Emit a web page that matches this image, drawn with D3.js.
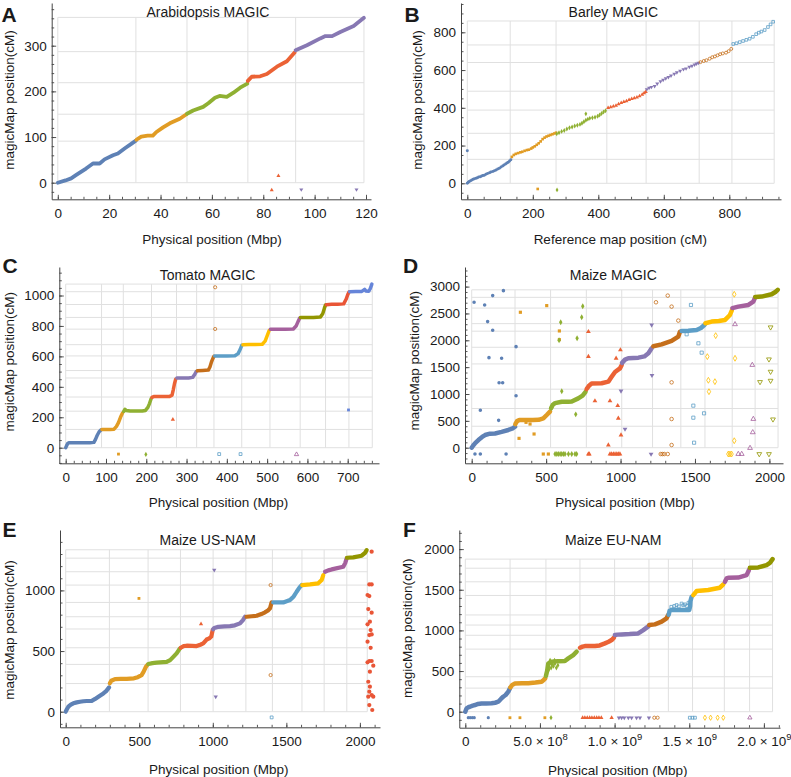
<!DOCTYPE html>
<html><head><meta charset="utf-8">
<script src="https://cdn.jsdelivr.net/npm/d3@7"></script>
<style>
body{margin:0;background:#fff}
svg{display:block}
text{font-family:"Liberation Sans",Arial,sans-serif;fill:#1a1a1a}
</style>
</head><body>
<svg id="chart" width="791" height="777"></svg>
<script>
// ---------------- colours (Mathematica default palette) ----------------
const PALETTE = ["#5E81B5","#E19C24","#8FB032","#EB6235","#8778B3","#C56E1A","#5D9EC7","#FFBF00","#A5609D","#929600","#E95536","#6685D9"];

// ---------------- A: Arabidopsis MAGIC ----------------
const arabXTicks = [0,20,40,60,80,100,120];
const arabYTicks = [0,100,200,300];
const arabCurves = [
  [[0,0],[3,5],[5.2,9.5],[7.2,17],[11,31],[13.7,42],[16.3,42],[18.2,51],[21.5,60],[23.4,64],[26,75],[28.6,85],[30.4,92]],
  [[30.6,94],[32.5,101],[35,103],[37,103],[38.4,111],[41,121],[43.6,130],[47.5,140],[50.1,150]],
  [[50.3,151],[52.7,158],[56.6,166],[58.6,174],[61.2,186],[63,190],[65.8,188],[68.4,197],[71,208],[73.8,217]],
  [[74,223],[75.5,232],[78.8,233],[81.4,238],[85.3,254],[89.2,266],[92.2,285]],
  [[92.6,290],[97,301],[102.2,316],[104.2,321],[106.8,321],[110,330],[115.2,343],[119.2,361]]
];
const arabOutliers = [[85.9,15,3],[83.3,-16,3],[94.8,-15,4],[116.3,-15,4]];
const arabGridX = [0,30.4,50.3,74,92.6,119.2];
const arabGridY = [0,91,150,219,287,362];

// ---------------- B: Barley MAGIC ----------------
const barleyXTicks = [0,200,400,600,800];
const barleyYTicks = [0,200,400,600,800];
const barleyChr = [
  [[0,0],[3,5],[6,9],[10,14],[14,17],[18,21],[22,24],[27,27],[31,30],[35,33],[40,35],[44,39],[48,41],[52,43],[57,48],[62,52],[68,56],[72,60],[78,62],[83,66],[88,70],[93,76],[98,80],[103,86],[108,92],[112,97],[117,102],[121,107],[125,112],[129,118],[133,125]],
  [[136,140],[142,150],[148,156],[155,160],[162,164],[168,167],[175,172],[182,176],[188,178],[195,184],[200,190],[206,196],[212,204],[218,212],[224,222],[230,234],[236,242],[242,248],[248,252],[254,256],[260,260],[266,264],[271,268]],
  [[273,262],[280,268],[288,275],[296,280],[304,288],[312,294],[320,298],[328,304],[336,308],[344,312],[350,318],[356,326],[362,334],[368,340],[374,344],[382,347],[390,350],[398,355],[404,362],[410,370],[416,378],[422,384]],
  [[430,400],[438,404],[446,408],[454,412],[462,420],[470,426],[478,432],[486,436],[494,442],[502,448],[510,452],[518,455],[526,462],[534,470],[540,478],[545,485]],
  [[548,498],[555,505],[562,510],[572,515],[580,528],[590,540],[598,548],[606,556],[614,562],[622,570],[632,580],[640,588],[650,596],[660,604],[668,608],[678,616],[686,622],[694,628],[700,634],[706,638]],
  [[712,642],[722,648],[730,652],[740,660],[748,668],[756,672],[764,678],[772,684],[780,688],[790,692],[798,700],[806,712]],
  [[812,738],[822,742],[832,748],[842,754],[852,760],[862,766],[872,776],[882,790],[890,798],[898,804],[908,812],[918,828],[926,842],[934,856]]
];
const barleyOutliers = [[0,173,0],[215,-30,1],[274,-35,2],[362,368,2]];
const barleyGridX = [0,131,271,426,546,708,808,937];
const barleyGridY = [0,127,265,388,488,640,733,860];

// ---------------- C: Tomato MAGIC ----------------
const tomatoXTicks = [0,100,200,300,400,500,600,700];
const tomatoYTicks = [0,200,400,600,800,1000];
const tomatoCurves = [
  [[0,0],[2,12],[5,28],[8,33],[20,33],[40,33],[60,33],[70,35],[74,55],[78,80],[83,105],[88,118]],
  [[90,120],[100,120],[110,120],[120,122],[126,140],[131,165],[136,200],[141,228]],
  [[144,238],[147,252],[150,245],[160,241],[175,241],[190,241],[198,245],[204,265],[208,290],[212,322]],
  [[214,330],[220,337],[240,337],[258,337],[264,345],[267,380],[270,420],[273,450]],
  [[276,458],[290,458],[305,458],[315,462],[320,480],[324,500]],
  [[327,505],[340,508],[354,510],[358,530],[362,565],[366,590],[368,600]],
  [[370,602],[385,602],[400,602],[420,604],[428,618],[433,645],[437,672]],
  [[440,676],[455,678],[470,678],[488,680],[495,700],[500,735],[505,770]],
  [[508,778],[525,778],[545,778],[565,780],[572,800],[577,830],[581,852]],
  [[583,855],[600,856],[615,856],[632,858],[638,880],[642,915],[645,938]],
  [[647,940],[660,942],[675,942],[690,945],[696,975],[700,1005],[703,1022]],
  [[705,1025],[720,1026],[735,1027],[742,1040],[745,1030],[752,1028],[756,1045],[760,1075]]
];
const tomatoOutliers = [[131,-42,1],[199,-44,2],[266,186,3],[371,1054,5],[371,780,5],[381,-42,6],[434,-42,6],[573,-44,8],[702,248,11]];
const tomatoGridX = [0,89,143,213,275,325,368,437,507,582,645,703,761];
const tomatoGridY = [0,120,240,333,458,507,603,677,779,856,941,1025,1075];

// ---------------- D: Maize MAGIC ----------------
const maizeXTicks = [0,500,1000,1500,2000];
const magicYTicks = [0,500,1000,1500,2000,2500,3000];
const magicCurves = [
  [[0,0],[10,40],[25,90],[45,143],[70,200],[90,236],[123,262],[157,265],[201,295],[246,330],[275,360],[291,390]],
  [[293,440],[305,495],[320,516],[358,518],[410,518],[450,520],[481,547],[504,609],[526,671]],
  [[533,733],[545,800],[560,830],[605,857],[650,857],[672,860],[716,919],[745,970],[765,1040]],
  [[772,1093],[790,1160],[806,1195],[873,1200],[918,1230],[940,1320],[963,1410],[996,1478],[1008,1540]],
  [[1010,1580],[1030,1640],[1052,1665],[1120,1677],[1160,1700],[1187,1758],[1209,1851]],
  [[1220,1890],[1276,1925],[1343,1988],[1388,2068],[1399,2160]],
  [[1411,2174],[1455,2176],[1511,2193],[1540,2230],[1565,2290]],
  [[1570,2317],[1612,2348],[1660,2360],[1702,2379],[1735,2472],[1748,2560]],
  [[1751,2600],[1791,2627],[1859,2658],[1892,2720],[1903,2790]],
  [[1905,2807],[1948,2814],[2015,2857],[2040,2900],[2056,2940]]
];
const magicOutliers = [
  [16,2708,0],[87,2658,0],[141,2832,0],[107,2348,0],[141,2186,0],[116,1677,0],[201,1665,0],[184,1211,0],[208,1211,0],[298,969,0],[298,1882,0],[213,2925,0],[58,696,0],[181,509,0],[22,-118,0],[58,-118,0],[231,-118,0],
  [327,2522,1],[504,2646,1],[318,174,1],[365,472,1],[392,441,1],[419,255,1],[481,-118,1],[515,-118,1],[589,2174,1],[589,2012,1],
  [598,2335,2],[587,2000,2],[739,2429,2],[708,2037,2],[746,2634,2],[605,1050,2],[699,621,2],
  [560,-118,2],[572,-118,2],[582,-118,2],[594,-118,2],[605,-118,2],[616,-118,2],[627,-118,2],[650,-118,2],[672,-118,2],[694,-118,2],[705,-118,2],
  [784,2161,3],[784,1696,3],[828,870,3],[929,870,3],[999,1820,3],[970,1665,3],[981,783,3],[985,547,3],[1003,236,3],[918,50,3],
  [784,-118,3],[790,-118,3],[929,-118,3],[940,-118,3],[952,-118,3],[963,-118,3],[975,-118,3],[985,-118,3],[996,-118,3],
  [1209,2286,4],[1211,1348,4],[1003,1056,4],[1030,348,4],[1205,-118,4],
  [1317,2832,5],[1238,2708,5],[1343,2627,5],[1388,2367,5],[1343,1217,5],[1343,534,5],[1343,50,5],[1317,-118,5],[1270,-118,5],[1282,-118,5],[1294,-118,5],
  [1473,2658,6],[1523,1944,6],[1444,2112,6],[1545,1770,6],[1489,783,6],[1489,559,6],[1561,640,6],[1494,93,6],
  [1583,1696,7],[1590,1255,7],[1634,1230,7],[1594,1043,7],[1639,2087,7],[1764,2857,7],[1769,1665,7],[1764,130,7],[1724,-118,7],[1735,-118,7],[1746,-118,7],
  [1769,2298,8],[1885,1540,8],[1892,534,8],[1888,286,8],[1870,-6,8],[1791,-118,8],[1814,-118,8],
  [2008,2242,9],[1997,1646,9],[2008,1416,9],[2008,1248,9],[1937,1224,9],[2024,528,9],[1932,-118,9],[1997,-118,9]
];
const magicGridX = [0,291,530,770,1008,1215,1405,1567,1750,1904,2058];
const magicGridY = [0,400,730,1090,1560,1870,2170,2310,2600,2800,2940];

// ---------------- E: Maize US-NAM ----------------
const usnamYTicks = [0,500,1000];
const usnamCurves = [
  [[0,0],[8,20],[18,41],[35,58],[52,69],[75,77],[97,82],[120,86],[143,88],[177,90],[200,105],[230,130],[256,151],[275,170],[295,200]],
  [[300,234],[310,255],[335,269],[375,270],[415,270],[464,275],[490,285],[516,302],[530,330],[545,370],[555,385]],
  [[562,393],[590,400],[618,404],[686,410],[710,425],[730,450],[754,481],[770,510],[777,522]],
  [[782,527],[800,540],[822,544],[860,542],[890,541],[915,552],[935,563],[958,595],[976,605],[990,620],[999,673]],
  [[1002,680],[1010,690],[1038,700],[1080,703],[1117,706],[1150,712],[1185,728],[1205,755],[1219,783]],
  [[1230,783],[1265,787],[1298,791],[1330,805],[1355,819],[1375,835],[1389,852],[1400,901]],
  [[1411,901],[1445,901],[1479,901],[1525,920],[1550,950],[1570,989],[1590,1025],[1604,1044]],
  [[1608,1044],[1661,1049],[1717,1058],[1740,1085],[1751,1126]],
  [[1763,1154],[1785,1165],[1808,1173],[1887,1195],[1900,1225],[1910,1264]],
  [[1912,1269],[1955,1272],[2012,1286],[2035,1310],[2046,1332]]
];
const usnamOutliers = [
  [498,934,1],[920,723,3],[1010,1168,4],[1020,124,4],[1393,1044,5],[1393,302,5],[1400,-47,6]
];
const usnamUnmapped = [
  [2080,1319,10],[2064,1049,10],[2080,1049,10],[2052,962,10],[2064,953,10],[2057,846,10],[2080,816,10],[2068,742,10],[2052,720,10],[2073,673,10],
  [2064,632,10],[2080,637,10],[2052,577,10],[2073,527,10],[2064,418,10],[2080,418,10],[2052,407,10],[2091,379,10],[2068,330,10],[2057,247,10],
  [2064,165,10],[2080,137,10],[2057,124,10],[2091,124,10],[2064,55,10],[2084,14,10],[2068,206,10]
];
const usnamGridX = [0,297,560,780,1002,1225,1405,1606,1757,1911,2050];
const usnamGridY = [0,232,390,527,682,783,901,1044,1154,1266,1335];

// ---------------- F: Maize EU-NAM ----------------
const eunamXTicks = [0,500,1000,1500,2000];
const eunamXTickLabels = [["0",""],["5.0 \u00d7 10","8"],["1.0 \u00d7 10","9"],["1.5 \u00d7 10","9"],["2.0 \u00d7 10","9"]];
const eunamYTicks = [0,500,1000,1500,2000];
const eunamCurves = [
  [[0,0],[5,25],[9,41],[20,55],[31,61],[50,75],[65,82],[85,95],[109,102],[140,102],[176,103],[200,110],[221,123],[240,160],[254,184],[270,205],[288,246],[299,287]],
  [[302,300],[315,330],[333,348],[380,350],[422,350],[470,358],[511,369],[525,390],[535,410]],
  [[540,440],[548,500],[556,594],[578,615],[620,622],[667,623],[690,656],[723,697],[746,738]],
  [[768,787],[785,800],[801,807],[868,807],[900,815],[935,840],[960,860],[980,881],[996,910]],
  [[1002,943],[1020,948],[1047,951],[1100,955],[1158,963],[1192,1004],[1228,1053]],
  [[1232,1066],[1270,1074],[1315,1107],[1348,1148],[1359,1189]],
  [[1362,1192],[1368,1240],[1380,1250],[1420,1250],[1460,1250],[1500,1250],[1506,1300],[1508,1360],[1516,1414]],
  [[1527,1434],[1549,1484],[1590,1490],[1627,1496],[1705,1525],[1728,1566]],
  [[1739,1598],[1750,1640],[1761,1648],[1828,1650],[1884,1680],[1900,1742]],
  [[1906,1770],[1962,1775],[2018,1803],[2040,1830],[2058,1877]]
];
const eunamOutliers = [
  [552,560,2],[560,520,2],[565,600,2],[575,540,2],[580,580,2],[590,560,2],[600,590,2],[610,540,2],[620,570,2],[568,630,2],[598,630,2],
  [1380,1290,6],[1400,1300,6],[1415,1311,6],[1430,1295,6],[1449,1330,6],[1460,1310,6],[1471,1320,6],[1485,1300,6],[1495,1340,6],
  [20,-74,0],[33,-74,0],[47,-74,0],[60,-74,0],[154,-74,0],[299,-74,1],[366,-74,1],[533,-74,1],[574,-74,2],
  [786,-74,3],[801,-74,3],[817,-74,3],[833,-74,3],[848,-74,3],[864,-74,3],[880,-74,3],[895,-74,3],[911,-74,3],[980,-74,3],
  [1029,-74,4],[1047,-74,4],[1065,-74,4],[1092,-74,4],[1114,-74,4],[1147,-74,4],[1170,-74,4],[1230,-74,4],
  [1266,-74,5],[1288,-74,5],[1504,-74,6],[1522,-74,6],[1538,-74,6],[1605,-74,7],[1643,-74,7],[1690,-74,7],[1728,-74,7],[1906,-74,8]
];
const eunamGridX = [0,300,540,768,1000,1230,1360,1522,1735,1904,2058];
const eunamGridY = [0,290,430,770,940,1066,1190,1430,1598,1765,1877];

// ---------------- panel layout ----------------
const panels = [
 {letter:"A",letterPos:[1.5,21.7],title:"Arabidopsis MAGIC",titlePos:[208,16.8],
  xLabel:"Physical position (Mbp)",xLabelPos:[212,244],yLabel:"magicMap position(cM)",yLabelPos:[13.5,100],
  xRef:[[0,120],[57.8,366]],yRef:[[0,300],[182.7,45.7]],axisX:51.7,axisY:199.3,xEnd:371,yTop:3,
  xTicks:arabXTicks,xMinor:5,yTicks:arabYTicks,yMinor:20,curves:arabCurves,outliers:arabOutliers,
  gridX:arabGridX,gridY:arabGridY,lineW:3.8,mSize:7},
 {letter:"B",letterPos:[404.5,21.7],title:"Barley MAGIC",titlePos:[613.3,16.8],
  xLabel:"Reference map position (cM)",xLabelPos:[620.3,244],yLabel:"magicMap position(cM)",yLabelPos:[421.7,100],
  xRef:[[0,800],[467.3,729.3]],yRef:[[0,800],[183.3,32.3]],axisX:461,axisY:199.3,xEnd:781,yTop:3,
  xTicks:barleyXTicks,xMinor:50,yTicks:barleyYTicks,yMinor:50,points:barleyChr,outliers:barleyOutliers,
  gridX:barleyGridX,gridY:barleyGridY,lineW:0,mSize:7},
 {letter:"C",letterPos:[2.5,273],title:"Tomato MAGIC",titlePos:[207.5,280],
  xLabel:"Physical position (Mbp)",xLabelPos:[218.5,507],yLabel:"magicMap position(cM)",yLabelPos:[13.5,361.7],
  xRef:[[0,700],[65.7,347.7]],yRef:[[0,1000],[447.7,295.5]],axisX:59.3,axisY:463.3,xEnd:379,yTop:267,
  xTicks:tomatoXTicks,xMinor:20,yTicks:tomatoYTicks,yMinor:50,curves:tomatoCurves,outliers:tomatoOutliers,
  gridX:tomatoGridX,gridY:tomatoGridY,lineW:3.5,mSize:8},
 {letter:"D",letterPos:[403,273.3],title:"Maize MAGIC",titlePos:[613.3,280],
  xLabel:"Physical position (Mbp)",xLabelPos:[625,507],yLabel:"magicMap position(cM)",yLabelPos:[419.3,360.7],
  xRef:[[0,2000],[471.7,769.4]],yRef:[[0,3000],[447.7,286.6]],axisX:465,axisY:463.3,xEnd:783,yTop:267,
  xTicks:maizeXTicks,xMinor:100,yTicks:magicYTicks,yMinor:100,curves:magicCurves,outliers:magicOutliers,
  gridX:magicGridX,gridY:magicGridY,lineW:4.5,mSize:10},
 {letter:"E",letterPos:[2.5,536.7],title:"Maize US-NAM",titlePos:[207.8,544.5],
  xLabel:"Physical position (Mbp)",xLabelPos:[218.8,773.5],yLabel:"magicMap position(cM)",yLabelPos:[13.5,630],
  xRef:[[0,2000],[65.7,359.9]],yRef:[[0,1000],[711.7,590.4]],axisX:60,axisY:727.3,xEnd:380,yTop:530,
  xTicks:maizeXTicks,xMinor:100,yTicks:usnamYTicks,yMinor:100,curves:usnamCurves,outliers:usnamOutliers,extra:usnamUnmapped,extraSize:14,
  gridX:usnamGridX,gridY:usnamGridY,lineW:4.2,mSize:8},
 {letter:"F",letterPos:[403,536.7],title:"Maize EU-NAM",titlePos:[613.3,544.5],
  xLabel:"Physical position (Mbp)",xLabelPos:[617.8,775],yLabel:"magicMap position(cM)",yLabelPos:[412.3,628.3],
  xRef:[[0,2000],[465.3,763.9]],yRef:[[0,2000],[711.7,549.1]],axisX:459.3,axisY:727.7,xEnd:780,yTop:530,
  xTicks:eunamXTicks,xTickLabels:eunamXTickLabels,xMinor:100,yTicks:eunamYTicks,yMinor:100,curves:eunamCurves,outliers:eunamOutliers,
  gridX:eunamGridX,gridY:eunamGridY,lineW:4.5,mSize:8}
];

// ---------------- drawing ----------------
const svg = d3.select("#chart");
svg.append("rect").attr("width",791).attr("height",777).attr("fill","#fff");

const SHAPES = [d3.symbolCircle,d3.symbolSquare,d3.symbolDiamond,d3.symbolTriangle,d3.symbolTriangle];
function drawMarkers(g, pts, x, y, size){
  g.selectAll(null).data(pts).join("path")
    .attr("d", d => d3.symbol().type(SHAPES[(d[2]%10)%5]).size(size)())
    .attr("transform", d => `translate(${x(d[0])},${y(d[1])})` + (((d[2]%10)%5)===4 ? " rotate(180)" : ""))
    .attr("fill", d => (d[2]%10) >= 5 ? "none" : PALETTE[d[2]])
    .attr("stroke", d => (d[2]%10) >= 5 ? PALETTE[d[2]] : "none")
    .attr("stroke-width", 0.8);
}

panels.forEach(p => {
  const ref = d3.scaleLinear().domain(p.xRef[0]).range(p.xRef[1]);
  const refY = d3.scaleLinear().domain(p.yRef[0]).range(p.yRef[1]);
  const x = d3.scaleLinear().domain([ref.invert(p.axisX), ref.invert(p.xEnd)]).range([p.axisX, p.xEnd]);
  const y = d3.scaleLinear().domain([refY.invert(p.axisY), refY.invert(p.yTop)]).range([p.axisY, p.yTop]);
  const g = svg.append("g");

  // grid lines (chromosome boundaries)
  const gx0 = p.gridX[0], gx1 = p.gridX[p.gridX.length-1];
  const gy0 = p.gridY[0], gy1 = p.gridY[p.gridY.length-1];
  g.append("g").selectAll("line").data(p.gridX).join("line")
    .attr("x1", d=>x(d)).attr("x2", d=>x(d)).attr("y1", y(gy0)).attr("y2", y(gy1))
    .attr("stroke","#e0e0e0").attr("stroke-width",1);
  g.append("g").selectAll("line").data(p.gridY).join("line")
    .attr("y1", d=>y(d)).attr("y2", d=>y(d)).attr("x1", x(gx0)).attr("x2", x(gx1))
    .attr("stroke","#e0e0e0").attr("stroke-width",1);

  // axes
  const [xd0,xd1] = x.domain(), [yd0,yd1] = y.domain();
  const xMinorVals = d3.range(Math.ceil(xd0/p.xMinor)*p.xMinor, xd1, p.xMinor);
  const yMinorVals = d3.range(Math.ceil(yd0/p.yMinor)*p.yMinor, yd1, p.yMinor);

  const xa = g.append("g").attr("transform",`translate(0,${p.axisY})`);
  xa.append("g").call(d3.axisBottom(x).tickValues(xMinorVals).tickSize(-2.5).tickSizeOuter(0).tickFormat(""))
    .call(s=>s.select(".domain").remove());
  const xMaj = xa.append("g").call(d3.axisBottom(x).tickValues(p.xTicks).tickSize(-4.5).tickSizeOuter(0).tickPadding(8.8).tickFormat(d3.format("d")));
  xMaj.selectAll("text").attr("font-size",13.5).attr("fill","#1a1a1a").attr("font-family",'"Liberation Sans",Arial,sans-serif');
  if (p.xTickLabels) {
    xMaj.selectAll(".tick text").each(function(d,i){
      const t = d3.select(this); t.text("");
      const lab = p.xTickLabels[i];
      t.append("tspan").text(lab[0]);
      if (lab[1]) t.append("tspan").attr("dy",-6).attr("font-size",9.5).text(lab[1]);
    });
  }

  const ya = g.append("g").attr("transform",`translate(${p.axisX},0)`);
  ya.append("g").call(d3.axisLeft(y).tickValues(yMinorVals).tickSize(-2.5).tickSizeOuter(0).tickFormat(""))
    .call(s=>s.select(".domain").remove());
  const yMaj = ya.append("g").call(d3.axisLeft(y).tickValues(p.yTicks).tickSize(-4.5).tickSizeOuter(0).tickPadding(5).tickFormat(d3.format("d")));
  yMaj.selectAll("text").attr("font-size",13.5).attr("fill","#1a1a1a").attr("font-family",'"Liberation Sans",Arial,sans-serif');
  g.selectAll(".domain").attr("stroke","#444").attr("stroke-width",1);
  g.selectAll(".tick line").attr("stroke","#444").attr("stroke-width",0.9);

  // data
  const line = d3.line().x(d=>x(d[0])).y(d=>y(d[1]));
  if (p.curves) {
    g.append("g").selectAll("path").data(p.curves).join("path")
      .attr("d", line).attr("fill","none")
      .attr("stroke",(d,i)=>PALETTE[i]).attr("stroke-width",p.lineW)
      .attr("stroke-linecap","round").attr("stroke-linejoin","round");
  }
  if (p.points) {
    const pts = p.points.flatMap((arr,i)=>arr.map(d=>[d[0],d[1],i]));
    drawMarkers(g.append("g"), pts, x, y, p.mSize);
  }
  drawMarkers(g.append("g"), p.outliers, x, y, p.mSize);
  if (p.extra) drawMarkers(g.append("g"), p.extra, x, y, p.extraSize);

  // texts
  g.append("text").attr("x",p.letterPos[0]).attr("y",p.letterPos[1])
    .attr("font-size",21).attr("font-weight","bold").attr("fill","#000").text(p.letter);
  g.append("text").attr("x",p.titlePos[0]).attr("y",p.titlePos[1]).attr("text-anchor","middle")
    .attr("font-size",14).text(p.title);
  g.append("text").attr("x",p.xLabelPos[0]).attr("y",p.xLabelPos[1]).attr("text-anchor","middle")
    .attr("font-size",13.5).text(p.xLabel);
  g.append("text").attr("transform",`translate(${p.yLabelPos[0]},${p.yLabelPos[1]}) rotate(-90)`)
    .attr("text-anchor","middle").attr("font-size",13.5).text(p.yLabel);
});
</script>
</body></html>
